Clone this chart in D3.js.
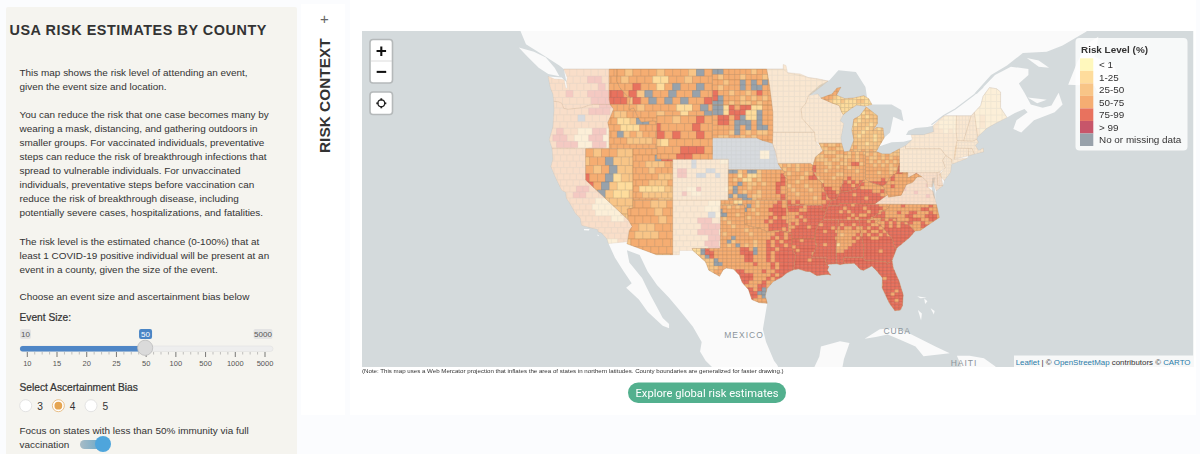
<!DOCTYPE html>
<html>
<head>
<meta charset="utf-8">
<title>USA Risk Estimates by County</title>
<script src="https://d3js.org/d3.v7.min.js"></script>
<style>
  body { margin: 0; background: #fbfcfe; overflow: hidden; }
  text { font-family: "Liberation Sans", Arial, sans-serif; fill: #333; }
</style>
</head>
<body>
<script>
// legend
const riskLevels = ["0", "1", "2", "3", "4", "5", "n"]
const legendLabels = ["< 1", "1-25", "25-50", "50-75", "75-99", "> 99", "No or missing data"]
const legendColors = ["#fff8bd", "#fedc9c", "#f8c587", "#f5ad72", "#e8725e", "#c7566a", "#98a2ab"]

// sidebar copy
const introLines = [
  ["This map shows the risk level of attending an event,", 75.5],
  ["given the event size and location.", 89.5],
  ["You can reduce the risk that one case becomes many by", 117.5],
  ["wearing a mask, distancing, and gathering outdoors in", 131.5],
  ["smaller groups. For vaccinated individuals, preventative", 145.5],
  ["steps can reduce the risk of breakthrough infections that", 159.5],
  ["spread to vulnerable individuals. For unvaccinated", 173.5],
  ["individuals, preventative steps before vaccination can", 187.5],
  ["reduce the risk of breakthrough disease, including", 201.5],
  ["potentially severe cases, hospitalizations, and fatalities.", 215.5],
  ["The risk level is the estimated chance (0-100%) that at", 244.5],
  ["least 1 COVID-19 positive individual will be present at an", 258.5],
  ["event in a county, given the size of the event.", 272.5],
  ["Choose an event size and ascertainment bias below", 299.5]
]
const sliderTicks = ["10", "15", "20", "25", "50", "100", "500", "1000", "5000"]
const sliderValue = "50"
const biasOptions = ["3", "4", "5"]
const biasSelected = "4"

// state outlines, [lon, lat]
const outlines = {
  WA: [[-124.7,48.38],[-123.9,48.17],[-123.1,48.15],[-122.7,48.1],[-122.5,47.4],[-122.3,47.4],[-122.4,47.9],[-122.3,48.3],[-122.75,49],[-117.03,49],[-117.04,46.42],[-116.92,45.99],[-118.98,46],[-119.6,45.92],[-120.5,45.7],[-121.2,45.65],[-122.2,45.57],[-122.75,45.65],[-123,46.1],[-123.4,46.22],[-124,46.27],[-124.1,46.9],[-124.4,47.4]],
  OR: [[-124,46.27],[-123.4,46.22],[-123,46.1],[-122.75,45.65],[-122.2,45.57],[-121.2,45.65],[-120.5,45.7],[-119.6,45.92],[-118.98,46],[-116.92,45.99],[-116.47,45.6],[-116.85,44.95],[-117.2,44.4],[-117.03,43.8],[-117.03,42],[-124.2,42],[-124.55,42.84],[-124.1,44],[-123.95,45.5]],
  CA: [[-124.2,42],[-120,42],[-120,39],[-114.63,35],[-114.14,34.3],[-114.5,33.9],[-114.72,32.72],[-117.12,32.53],[-117.3,33],[-118,33.65],[-118.4,33.75],[-118.5,34.03],[-119.2,34.15],[-120.5,34.45],[-120.65,35.15],[-121.3,35.7],[-121.9,36.6],[-122.4,37.2],[-122.5,37.8],[-123,38],[-123.8,39.3],[-124.35,40.3],[-124.1,41]],
  NV: [[-120,42],[-114.04,42],[-114.04,36.2],[-114.75,36.1],[-114.63,35],[-120,39]],
  ID: [[-117.03,49],[-116.05,49],[-116.05,48],[-115.7,47.45],[-114.7,46.7],[-114.35,46.65],[-114.55,45.55],[-113.95,45.7],[-113.45,44.95],[-113,44.45],[-111.5,44.55],[-111.05,44.48],[-111.05,42],[-117.03,42],[-117.03,43.8],[-117.2,44.4],[-116.85,44.95],[-116.47,45.6],[-116.92,45.99],[-117.04,46.42]],
  MT: [[-116.05,49],[-104.05,49],[-104.05,45],[-111.05,45],[-111.05,44.48],[-111.5,44.55],[-113,44.45],[-113.45,44.95],[-113.95,45.7],[-114.55,45.55],[-114.35,46.65],[-114.7,46.7],[-115.7,47.45],[-116.05,48]],
  WY: [[-111.05,45],[-104.05,45],[-104.05,41],[-111.05,41]],
  UT: [[-114.04,42],[-111.05,42],[-111.05,41],[-109.05,41],[-109.05,37],[-114.04,37]],
  CO: [[-109.05,41],[-102.05,41],[-102.05,37],[-109.05,37]],
  NM: [[-109.05,37],[-103,37],[-103.05,32],[-106.6,32],[-106.5,31.78],[-108.2,31.78],[-108.2,31.33],[-109.05,31.33]],
  AZ: [[-114.04,37],[-109.05,37],[-109.05,31.33],[-111.07,31.33],[-114.8,32.5],[-114.72,32.72],[-114.5,33.9],[-114.14,34.3],[-114.63,35],[-114.75,36.1],[-114.04,36.2]],
  ND: [[-104.05,49],[-97.23,49],[-96.85,47.5],[-96.56,45.94],[-104.05,45.94]],
  SD: [[-104.05,45.94],[-96.56,45.94],[-96.45,45.3],[-96.45,43.5],[-96.5,42.5],[-97.9,42.8],[-98.5,43],[-104.05,43]],
  NE: [[-104.05,43],[-98.5,43],[-97.9,42.8],[-96.5,42.5],[-96.1,41.7],[-95.85,40.7],[-95.3,40],[-102.05,40],[-102.05,41],[-104.05,41]],
  KS: [[-102.05,40],[-95.3,40],[-94.9,39.8],[-95.1,39.5],[-94.6,39.1],[-94.62,37],[-102.05,37]],
  OK: [[-103,37],[-94.62,37],[-94.43,35.4],[-94.48,33.64],[-95.5,33.9],[-96.6,33.85],[-97.2,33.75],[-98.1,34.13],[-99.2,34.3],[-100,34.56],[-100,36.5],[-103,36.5]],
  TX: [[-103,36.5],[-100,36.5],[-100,34.56],[-99.2,34.3],[-98.1,34.13],[-97.2,33.75],[-96.6,33.85],[-95.5,33.9],[-94.48,33.64],[-94.04,33.55],[-94.04,32],[-93.55,31.2],[-93.85,29.7],[-94.7,29.35],[-95.3,28.9],[-96.4,28.4],[-97.2,27.6],[-97.4,26.8],[-97.15,25.96],[-98.2,26.05],[-99.1,26.4],[-99.5,27.5],[-100.3,28.3],[-100.65,29.1],[-101.4,29.77],[-102.3,29.88],[-102.7,29.7],[-103.15,28.98],[-104.5,29.65],[-104.9,30.55],[-106.5,31.78],[-106.6,32],[-103.05,32]],
  MN: [[-97.23,49],[-95.15,49],[-95.15,49.38],[-94.8,49.3],[-94.6,48.7],[-93,48.6],[-92,48.3],[-90.8,48.2],[-89.5,48],[-92,46.7],[-92.3,46.1],[-92.9,45.6],[-92.75,44.75],[-91.2,43.5],[-96.45,43.5],[-96.45,45.3],[-96.56,45.94],[-96.85,47.5]],
  IA: [[-96.45,43.5],[-91.2,43.5],[-91.1,42.7],[-90.15,41.8],[-91.1,41.2],[-91.4,40.4],[-91.7,40.6],[-95.77,40.58],[-96.1,41.7],[-96.5,42.5]],
  MO: [[-95.77,40.58],[-91.7,40.6],[-91.4,40.4],[-91.5,40],[-90.7,39],[-90.2,38.7],[-90.2,38.3],[-89.5,37.3],[-89.15,36.98],[-89.4,36.5],[-89.7,36],[-90.37,36],[-90.15,36.5],[-94.62,36.5],[-94.62,39.1],[-95.1,39.5],[-94.9,39.8],[-95.3,40]],
  AR: [[-94.62,36.5],[-90.15,36.5],[-90.37,36],[-89.7,36],[-90.1,35],[-90.6,34.7],[-91.1,33.8],[-91.17,33],[-94.04,33],[-94.04,33.55],[-94.48,33.64],[-94.43,35.4]],
  LA: [[-94.04,33],[-91.17,33],[-90.9,32.3],[-91.6,31],[-89.73,31],[-89.85,30.65],[-89.6,30.2],[-89.4,30.05],[-89.6,29.65],[-89.15,29.1],[-89.5,29.2],[-90.1,29.15],[-90.9,29.05],[-91.8,29.5],[-92.3,29.53],[-93.2,29.78],[-93.85,29.7],[-93.55,31.2],[-94.04,32]],
  MS: [[-91.17,33],[-91.1,33.8],[-90.6,34.7],[-90.1,35],[-88.2,35],[-88.47,31.9],[-88.4,30.35],[-89.4,30.3],[-89.6,30.2],[-89.85,30.65],[-89.73,31],[-91.6,31],[-90.9,32.3]],
  AL: [[-88.2,35],[-85.6,35],[-85.18,32.87],[-85,32.3],[-85.05,31],[-87.6,31],[-87.45,30.35],[-88,30.25],[-88.4,30.35],[-88.47,31.9]],
  TN: [[-90.1,35],[-89.7,36],[-89.4,36.5],[-88.05,36.5],[-88.05,36.68],[-83.67,36.6],[-81.68,36.59],[-82,36.1],[-83,35.75],[-84.3,35],[-85.6,35]],
  KY: [[-89.4,36.5],[-89.15,36.98],[-88.5,37.1],[-88.05,37.8],[-87,37.9],[-86.3,38.1],[-85.7,38.3],[-85.4,38.7],[-84.8,39.1],[-84.2,38.8],[-83.7,38.65],[-82.6,38.4],[-82,37.55],[-83.67,36.6],[-88.05,36.68],[-88.05,36.5]],
  IL: [[-91.4,40.4],[-91.1,41.2],[-90.15,41.8],[-90.65,42.5],[-87.8,42.5],[-87.5,41.7],[-87.53,39.3],[-87.9,38],[-88.05,37.8],[-88.5,37.1],[-89.15,36.98],[-89.5,37.3],[-90.2,38.3],[-90.2,38.7],[-90.7,39],[-91.5,40]],
  IN: [[-87.5,41.7],[-86.8,41.76],[-84.8,41.76],[-84.8,39.1],[-85.4,38.7],[-85.7,38.3],[-86.3,38.1],[-87,37.9],[-88.05,37.8],[-87.9,38],[-87.53,39.3]],
  OH: [[-84.8,41.76],[-83.45,41.73],[-82.7,41.5],[-81.7,41.5],[-80.52,41.98],[-80.52,40.64],[-80.85,39.7],[-81.75,39.2],[-82.2,38.6],[-82.6,38.4],[-83.7,38.65],[-84.2,38.8],[-84.8,39.1]],
  MI: [[-86.8,41.76],[-83.45,41.73],[-83.1,42.2],[-82.45,43],[-82.6,43.9],[-83.4,43.95],[-83.9,43.65],[-83.3,44.3],[-83.3,45],[-84.7,45.77],[-85.5,45],[-86.25,44.7],[-86.5,43.7],[-86.25,42.8]],
  UP: [[-90.4,46.55],[-89,46.9],[-88.4,47.4],[-87.9,47.47],[-88.45,46.8],[-87.4,46.5],[-86.3,46.55],[-85,46.75],[-84.4,46.5],[-84,46],[-84.75,45.85],[-85.9,45.95],[-86.6,45.65],[-87.6,45.1],[-87.8,45.35],[-88.1,45.9],[-89.1,46.15]],
  WI: [[-92.75,44.75],[-92.9,45.6],[-92.3,46.1],[-92,46.7],[-90.8,46.9],[-90.4,46.55],[-89.1,46.15],[-88.1,45.9],[-87.8,45.35],[-87.6,45.1],[-88,44.55],[-87.55,44.3],[-87.9,43],[-87.8,42.5],[-90.65,42.5],[-91.1,42.7],[-91.2,43.5]],
  GA: [[-85.6,35],[-83.1,35],[-83.35,34.7],[-82.9,34.5],[-81.4,33],[-81.1,32.1],[-80.85,32.05],[-81.45,30.72],[-82.05,30.36],[-82.2,30.57],[-84.86,30.7],[-85.05,31],[-85,32.3],[-85.18,32.87]],
  FL: [[-87.6,31],[-85.05,31],[-84.86,30.7],[-82.2,30.57],[-82.05,30.36],[-81.45,30.72],[-81.3,29.9],[-80.55,28.4],[-80.05,26.9],[-80.15,25.7],[-80.4,25.2],[-81.1,25.13],[-81.8,26],[-82.7,27.7],[-82.65,28.8],[-83.4,29.6],[-84,30.1],[-85,29.65],[-85.4,29.7],[-86.2,30.4],[-87.45,30.35]],
  SC: [[-83.35,34.7],[-83.1,35],[-82.3,35.2],[-81,35.15],[-80.8,34.82],[-79.67,34.8],[-78.55,33.85],[-79.2,33.2],[-79.9,32.7],[-80.85,32.05],[-81.1,32.1],[-81.4,33],[-82.9,34.5]],
  NC: [[-84.3,35],[-83,35.75],[-82,36.1],[-81.68,36.59],[-75.87,36.55],[-75.5,35.25],[-76.5,34.7],[-77.9,33.9],[-78.55,33.85],[-79.67,34.8],[-80.8,34.82],[-81,35.15],[-82.3,35.2],[-83.1,35]],
  VA: [[-83.67,36.6],[-81.68,36.59],[-75.87,36.55],[-76,37],[-76.3,37.9],[-77,38.3],[-77.05,38.85],[-77.72,39.32],[-78.3,39.3],[-78.9,38.75],[-79.65,38.55],[-80.3,37.5],[-81.9,37.3],[-82,37.55]],
  WV: [[-82.6,38.4],[-82.2,38.6],[-81.75,39.2],[-80.85,39.7],[-80.52,40.64],[-80.52,39.72],[-79.48,39.72],[-79.48,39.2],[-78.4,39.65],[-77.72,39.32],[-78.3,39.3],[-78.9,38.75],[-79.65,38.55],[-80.3,37.5],[-81.9,37.3],[-82,37.55]],
  MD: [[-79.48,39.72],[-75.79,39.72],[-75.7,38.45],[-75.05,38.45],[-75.9,37.95],[-76.3,38.9],[-76.4,38.3],[-77,38.3],[-77.05,38.85],[-77.72,39.32],[-78.4,39.65],[-79.48,39.2]],
  DE: [[-75.79,39.72],[-75.4,39.8],[-75.05,38.45],[-75.7,38.45]],
  PA: [[-80.52,41.98],[-79.76,42.27],[-79.76,42],[-75.35,42],[-74.7,41.35],[-75.1,40.9],[-74.75,40.2],[-75.4,39.8],[-75.79,39.72],[-80.52,39.72]],
  NY: [[-79.76,42.27],[-78.9,42.85],[-79.05,43.27],[-77.5,43.27],[-76.2,43.55],[-76.3,44.1],[-75,44.95],[-74.7,45],[-73.35,45],[-73.4,43.6],[-73.27,42.75],[-73.5,41.3],[-73.65,41],[-72,41.1],[-73.9,40.55],[-74,41],[-74.7,41.35],[-75.35,42],[-79.76,42]],
  NJ: [[-74.7,41.35],[-73.9,40.95],[-74,40.45],[-74.1,39.75],[-74.9,38.95],[-75.5,39.5],[-74.75,40.2],[-75.1,40.9]],
  CT: [[-73.5,42.05],[-71.8,42.02],[-71.85,41.32],[-73.65,41]],
  RI: [[-71.8,42.02],[-71.4,42.02],[-71.1,41.5],[-71.85,41.32]],
  MA: [[-73.27,42.75],[-71.3,42.7],[-70.8,42.87],[-70.6,42.6],[-71,42.3],[-70.55,41.8],[-70,42.05],[-69.95,41.7],[-71.1,41.5],[-71.4,42.02],[-73.5,42.05]],
  VT: [[-73.35,45],[-71.5,45],[-72.45,42.73],[-73.27,42.75],[-73.4,43.6]],
  NH: [[-71.5,45],[-71.1,45.3],[-70.7,43.1],[-70.8,42.87],[-71.3,42.7],[-72.45,42.73]],
  ME: [[-71.1,45.3],[-70.3,45.9],[-70,46.7],[-69.2,47.45],[-68.3,47.35],[-67.8,47.07],[-67.8,45.7],[-67,44.85],[-68.5,44.3],[-69.5,43.9],[-70.7,43.1]]
}

// states above 50% full vaccination are drawn washed out
const fadedStates = ["WA", "OR", "CA", "CO", "NM", "NE", "MN", "IA", "WI", "VA", "MD", "DE", "PA", "NY", "NJ", "CT", "RI", "MA", "VT", "NH", "ME"]
const looseCountyStates = ["WA", "OR", "CA", "NV", "ID", "MT", "WY", "UT", "AZ", "NM"]

// county cell size in degrees, [lon, lat]
const cellSizes = {
  WA:[.9,.6], OR:[.9,.6], CA:[.8,.6], NV:[1,.8], ID:[.8,.6], MT:[1,.6], WY:[1,.7], UT:[.8,.6], CO:[.6,.45], NM:[.9,.6], AZ:[1,.8],
  ND:[.7,.45], SD:[.7,.45], NE:[.6,.4], KS:[.6,.4], OK:[.55,.4], TX:[.55,.4], MN:[.7,.45], IA:[.55,.4], MO:[.55,.4],
  AR:[.5,.35], LA:[.5,.35], MS:[.5,.35], AL:[.5,.35], TN:[.5,.35], KY:[.5,.35], IL:[.5,.35], IN:[.5,.35], OH:[.5,.35], MI:[.5,.35], UP:[.5,.35], WI:[.55,.4],
  GA:[.5,.35], FL:[.5,.35], SC:[.5,.35], NC:[.5,.35], VA:[.5,.35], WV:[.5,.35], MD:[.4,.3], DE:[.3,.3], PA:[.55,.4], NY:[.6,.4], NJ:[.3,.3], CT:[.4,.3], RI:[.3,.3], MA:[.4,.3], VT:[.4,.4], NH:[.4,.4], ME:[.7,.6]
}

// level used where a state has no row for a cell
const baseLevels = {
  WA:"3", OR:"3", CA:"3", NV:"2", ID:"3", MT:"3", WY:"3", UT:"3", CO:"2", NM:"2", AZ:"3", ND:"3", SD:"3", NE:"n", KS:"3", OK:"3", TX:"3",
  MN:"2", IA:"2", MO:"3", AR:"4", LA:"4", MS:"4", AL:"4", TN:"4", KY:"3", IL:"3", IN:"3", OH:"3", MI:"2", UP:"1", WI:"2", GA:"4", FL:"4", SC:"4", NC:"3",
  VA:"3", WV:"3", MD:"3", DE:"3", PA:"2", NY:"2", NJ:"2", CT:"2", RI:"2", MA:"2", VT:"2", NH:"2", ME:"1"
}

// risk level per county cell, read row by row from the north west corner of each state
const riskRows = {
  WA: ["333333333","333333443","333333343","333433444","333333444","333333344"],
  OR: ["333333344","333333444","3333n3333","333333333","343311441","344311441","344411441","333311441"],
  CA: ["3333333333333","3333333333333","3333333333333","3333333333333","3333333333333","3333333333333","3333443333333","3333443333333","3333333111133","3333333111133","3333333111133","3333333333113","3333333333333","3333333333333","3333333333333","3333333331133"],
  NV: ["323322","233n22","323n22","433n12","43n211","22n211","222222","222222","222222"],
  ID: ["33333333","33333333","33333333","44433333","44433433","33333333","32233333","33112nn3","33111333","33n23233","33322223","33333333"],
  MT: ["3233323332n3","323331133233","3343313n33n3","3342n33n33n3","3243n3n3n334","33323333113n","33333233133n","333333333333"],
  WY: ["3323343","4333343","4343343","2133333","3334443","3334433"],
  UT: ["3333n23","3333n44","3322233","3332333","3333222","3332223","3111122","3322222","3333222"],
  CO: ["2222n2222211","2222n2222222","2442222nn222","24422nn22n22","222222222222","222222222222","222114222221","224211222222","222222222222"],
  NM: ["2222211","2222211","22222n1","2222442","2222444","2222444","2222244","2222244","2222244","2222222"],
  AZ: ["333223","333323","333323","332233","322233","233333","233333","223322"],
  ND: ["nn333332333","32333233322","33233n3n3n3","32333n3nn33","43323323433","4n333232323","nn323223233"],
  SD: ["nn143441133","nn144411n33","34434n11n33","3443nnn3n33","3333n3n3nn3","3332n323223","32233232333","33333333333"],
  NE: ["nnnnnnnnnnnnnnn","nnnnnnnnnnnnnnn","nnnnnnnnnnnnnnn","nnnnnnnnnn11nnn","nnnnnnnnnn11nnn","nnnnnnnnnnnnnnn","nnnnnnnnnnnnnnn","nnnnnnnnnnnnnnn"],
  KS: ["nn23nn2333334","3313112333343","3231132333343","33n3223233443","2n33233333433","3n32332333433","n2nn322333343","333nn23333343"],
  OK: ["3331133323333433","2223n3n323334433","3333nn3233344443","3333333323334443","3333332333343433","3333233333434443","3333333333344444","3333333233344434","3333333333343443"],
  TX: [
    "333333332323333333333333","333333n33333233333333333","333333nn3323333233333333","333333323333333233333333",
    "333333332333332333343333","333333333233333333343333","333333333333233333334433","333333323333323333344343",
    "333333333n33333333434343","33333333n233332334343444","2222233323n3232334344344","11n43333333443n334434444",
    "11n44333333444n334344444","222n43333333443334344444","22222n333333443334344444","22222nn33333334333434444",
    "222222333333333333434444","322223333344333343344444","333333333344443333434444","333333333344443334344444",
    "333333333344433343344444","333333333444333443344444","3333333334444434n3344444","333333333444444nn3344444",
    "3333333334444443n3344444","333333333333443333344444","333333333333333333344444"
  ],
  MO: ["2323233332333","3233233343333","3323332344333","3233323443333","2333233333333","3323332333433","3332333233343","3333233333433","3433333323433","3443433333343","4444343333444","4444434344444"],
  AR: ["4444344444","4443344444","3334444444","3343444444","3334344444","3434444444","3344434444","3444444444","4444444444","4444444444"],
  LA: ["44344443344","44444433444","34444443444","43444434444","44444344444","44444444444","44443444444"],
  MS: ["44444443","44344444","44444344","44434434","44444443","34444434","44444444","44434444"],
  AL: ["4444444","4344344","3433433","3333334","3233343","3333434","3333344","1333444","3334444","3344444"],
  TN: ["44444443444444333","44444344443444433","44443434444344343","44444443433444333","44444434344434343"],
  KY: ["333333333333443","333333344333333","333344343333333","334444444443343","344444344444433","444444444344443","444444444444433","444444344444433"],
  IL: ["22232232","23223322","32322233","22233322","32223223","33322332","43332323","43323333","23333322","32333233","33233333","33433333","33344334","33344434","33444444","33444444"],
  IN: ["2323232","3223233","3233233","3234423","3323333","3333233","3333333","3343333","3434343","4443433","4444443","4444444"],
  OH: ["222232222","232323222","322323233","323232323","332323233","333333223","333233234","333333344","333343444","344444344","344444443"],
  MI: ["222222222","212122122","121212221","221222212","212221222","122212212","222122222","221222122","222222122","222212222","232222222","322323222"],
  UP: ["3333333333333","3333311111111","3332111211111","3321121112211","3321111111111","3211111111111","3111111111111"],
  GA: ["4434333333","4443343333","3434433333","3343343443","3434434344","4443344444","4444444444","4444444444","4444444444","4444434444"],
  FL: ["4444444444444444","4444444444444444","4444444444444444","4444444444444444","4444444444444444","4444444444444444","4444444444344444","4444444444444444","4444444443444444","4444444444444444","4444444444444344","4444444444443444","4444444444444444","4444444444444344","4444444444444444"],
  SC: ["3434343333","3343434343","4343434444","3444444444","4444444444"],
  NC: ["333333334333333433","433333333333344333","443433343344333433","344433333443334443","333434433344433443","333344334443343333","333343444433344333","333334444333333333"],
  WV: ["3334444444","3344444444","3344433344","3443333333","3343333333","3333333333","3343333333"],
  ME: ["1111","1111","1111","1111","1211","1211","2121","2222"],
  NY: ["222222221111","222222211111","222222211111","222222221212","222222222222","222222222222","222222222222"],
  VA: ["3333333334333333","3333334333333333","3343333333333433","3333333433333333","3333333333433333","4333333333333433"]
}

// water and neighbouring land behind the states
const northAmerica = [[-128.4,53],[-128.3,52.2],[-127.5,51],[-125.5,50.2],[-123.3,49.3],[-122.75,49],[-122.4,47.9],[-123,48.3],[-124.7,48.38],[-124.4,47.4],[-124.1,46.9],[-124,46.27],[-123.95,45.5],[-124.1,44],[-124.55,42.84],[-124.2,42],[-124.1,41],[-124.35,40.3],[-123.8,39.3],[-123,38],[-122.5,37.8],[-122.4,37.2],[-121.9,36.6],[-121.3,35.7],[-120.65,35.15],[-120.5,34.45],[-119.2,34.15],[-118.5,34.03],[-118.4,33.75],[-118,33.65],[-117.3,33],[-117.12,32.53],[-116.3,31],[-115.2,29.5],[-114.2,28.2],[-114.9,27.7],[-113.3,26.4],[-112.2,25],[-110.3,23.4],[-109.5,23.1],[-109.5,23.6],[-110.3,24.3],[-111,25.5],[-111.9,27],[-112.9,28.8],[-114.5,30.5],[-114.8,31.8],[-113.2,31.3],[-112.2,29.5],[-111,28],[-109.5,26.6],[-108.2,25.2],[-106.5,23.3],[-105.4,21.5],[-105.6,20.4],[-104.9,19.3],[-103.5,18],[-95.5,18],[-95.9,18.8],[-96.3,19.3],[-97.3,21.5],[-97.7,23],[-97.15,25.96],[-97.4,26.8],[-97.2,27.6],[-96.4,28.4],[-95.3,28.9],[-94.7,29.35],[-93.85,29.7],[-93.2,29.78],[-92.3,29.53],[-91.8,29.5],[-90.9,29.05],[-90.1,29.15],[-89.5,29.2],[-89.15,29.1],[-89.6,29.65],[-89.4,30.05],[-89.6,30.2],[-89.4,30.3],[-88.4,30.35],[-88,30.25],[-87.45,30.35],[-86.2,30.4],[-85.4,29.7],[-85,29.65],[-84,30.1],[-83.4,29.6],[-82.65,28.8],[-82.7,27.7],[-81.8,26],[-81.1,25.13],[-80.4,25.2],[-80.15,25.7],[-80.05,26.9],[-80.55,28.4],[-81.3,29.9],[-81.45,30.72],[-80.85,32.05],[-79.9,32.7],[-79.2,33.2],[-78.55,33.85],[-77.9,33.9],[-76.5,34.7],[-75.5,35.25],[-75.87,36.55],[-76,37],[-75.9,37.95],[-75.05,38.45],[-74.9,38.95],[-74.1,39.75],[-74,40.45],[-73.9,40.55],[-72,41.1],[-71.85,41.32],[-71.1,41.5],[-69.95,41.7],[-70,42.05],[-70.55,41.8],[-71,42.3],[-70.6,42.6],[-70.8,42.87],[-70.7,43.1],[-69.5,43.9],[-68.5,44.3],[-67,44.85],[-66,45.25],[-64.8,45.6],[-64.4,45.3],[-65.8,44.6],[-66.2,43.8],[-65.2,43.5],[-63.6,44.6],[-61,45.3],[-60,46],[-60.5,47],[-61.4,45.9],[-62.5,45.7],[-64,46],[-64.8,47],[-65.5,47.8],[-64.3,48.5],[-64.3,49],[-66.5,49.2],[-68.5,48.5],[-70.8,46.9],[-71,47],[-69,48.5],[-67,49.3],[-65,50.3],[-62,50.4],[-60,50.9],[-57,52],[-56,53]]
const islands = [
  [[-128.4,50.75],[-126.5,50.4],[-125,49.95],[-123.9,49.1],[-123.3,48.4],[-124.7,48.6],[-125.9,49.1],[-127.3,50]],
  [[-84.9,21.9],[-83,23],[-81,23.15],[-79,22.4],[-76,21],[-74.2,20.2],[-77.5,19.85],[-78.5,21],[-80.5,21.8],[-82,22.4],[-83.5,22.1]],
  [[-73.3,19.9],[-71.7,19.9],[-69.9,19.6],[-68.4,18.6],[-71.5,17.7],[-74.4,18.4],[-72.7,18.6]],
  [[-78.3,18.4],[-77,18.5],[-76.2,18.1],[-77.3,17.8]],
  [[-91.5,18],[-90.6,19.8],[-90.4,21],[-88,21.6],[-86.8,21.4],[-87.5,19.5],[-87.8,18]],
  [[-59.3,47.7],[-58.2,49.5],[-57,51],[-55.5,51.6],[-56,50],[-53.5,49.3],[-52.7,47.5],[-53.5,46.7],[-55.5,46.9],[-56,47.6]],
  [[-64.4,46.6],[-63,46.5],[-62,46.4],[-63.2,46.1]],
  [[-64.5,49.9],[-63,49.7],[-61.7,49.1],[-63,49.2]],
  [[-120.2,34.05],[-119.5,34.05],[-119.6,33.9],[-120.2,33.92]],
  [[-118.6,33.48],[-118.3,33.38],[-118.4,33.3]],
  [[-78.3,26.75],[-77.1,26.6],[-77.9,26.55]],
  [[-77.4,26.5],[-77,26.2],[-77.3,25.9]],
  [[-78.2,25.2],[-77.7,24.8],[-77.8,24]],
  [[-76.6,25.4],[-76.1,25.1],[-76.2,24.7]]
]
const lakes = [
  [[-92.1,46.75],[-90.8,46.9],[-90.4,46.55],[-89,46.9],[-88.4,47.4],[-87.9,47.47],[-88.45,46.8],[-87.4,46.5],[-86.3,46.55],[-85,46.75],[-84.6,46.6],[-84.8,47.5],[-86,48.75],[-88.2,48.9],[-89.3,48.1],[-90.5,47.7]],
  [[-87.8,42.5],[-87.5,41.7],[-86.8,41.76],[-86.25,42.8],[-86.5,43.7],[-86.25,44.7],[-85.5,45],[-84.7,45.77],[-84.75,45.85],[-85.9,45.95],[-86.6,45.65],[-87.6,45.1],[-88,44.55],[-87.55,44.3],[-87.9,43]],
  [[-84.7,45.77],[-83.3,45],[-83.3,44.3],[-83.9,43.65],[-83.4,43.95],[-82.6,43.9],[-82.45,43],[-81.7,43.5],[-81.3,44.9],[-80,44.5],[-80.3,45.5],[-81.5,46],[-84,46]],
  [[-83.45,41.73],[-82.7,41.5],[-81.7,41.5],[-80.52,41.98],[-79.76,42.27],[-78.9,42.85],[-80,42.65],[-81.5,42.6],[-83.1,42.2]],
  [[-79.7,43.25],[-79.05,43.27],[-77.5,43.27],[-76.2,43.55],[-76.3,44.1],[-77,44],[-78.5,43.9],[-79.4,43.65]],
  [[-76.4,39.2],[-76.5,38.4],[-76.3,37.5],[-76,37],[-75.95,37.6],[-76.15,38.5],[-76,39.3]]
]
const stLawrence = [[-76.5,44.2],[-75,45],[-73.5,45.6],[-71.2,46.8],[-70,47.5]]
const canadaBorder = [[-122.75,49],[-95.15,49],[-94.6,48.7],[-92,48.3],[-89.5,48]]
const easternBorder = [[-75,44.95],[-74.7,45],[-71.5,45],[-71.1,45.3],[-70.3,45.9],[-70,46.7],[-69.2,47.45],[-68.3,47.35],[-67.8,47.07],[-67.8,45.7],[-67,44.85]]
const placeLabels = [["MEXICO", [-100.07, 22]], ["CUBA", [-80.8, 22.44]], ["HAITI", [-72.4, 18.68]]]

const width = 1200
const height = 454

const svg = d3.select("body").append("svg")
  .attr("width", width)
  .attr("height", height)
  .style("display", "block")

// the Leaflet view of the source map
const projection = d3.geoMercator().scale(455.5).translate([1539.6, 517.2])
const ring = d3.line(d => projection(d)[0], d => projection(d)[1])
const closedRing = d => ring(d) + "Z"

const riskColor = d3.scaleOrdinal().domain(riskLevels).range(legendColors)

const drawPanels = () => {
  svg.append("rect").attr("x", 6).attr("y", 7).attr("width", 291).attr("height", 460).attr("rx", 2).attr("fill", "#f5f4ef")
  svg.append("rect").attr("x", 301).attr("y", 4).attr("width", 44).attr("height", 411).attr("fill", "#fff")
  svg.append("rect").attr("x", 350).attr("y", 0).attr("width", 846).attr("height", 415).attr("fill", "#fff")
}

const medium = sel => sel.attr("stroke", "#333").attr("stroke-width", .22)

const drawSidebar = () => {
  svg.append("text")
    .attr("x", 9.5).attr("y", 34.5)
    .attr("font-size", 14.4).attr("font-weight", "bold").attr("letter-spacing", .55)
    .text("USA RISK ESTIMATES BY COUNTY")

  svg.selectAll(".intro").data(introLines).enter().append("text")
    .classed("intro", true)
    .attr("x", 19.5).attr("y", d => d[1])
    .attr("font-size", 9.95)
    .text(d => d[0])

  svg.append("text").attr("x", 19.5).attr("y", 321).attr("font-size", 10.2).call(medium).text("Event Size:")
  svg.append("text").attr("x", 19.5).attr("y", 391).attr("font-size", 10.2).call(medium).text("Select Ascertainment Bias")
  svg.append("text").attr("x", 19.5).attr("y", 433.5).attr("font-size", 9.95).text("Focus on states with less than 50% immunity via full")
  svg.append("text").attr("x", 19.5).attr("y", 447.5).attr("font-size", 9.95).text("vaccination")

  // event size slider
  const slider = d3.scalePoint().domain(sliderTicks).range([27.3, 265])
  svg.append("rect").attr("x", 20).attr("y", 346).attr("width", 253).attr("height", 5.5).attr("rx", 2.7)
    .attr("fill", "#eee").attr("stroke", "#ddd").attr("stroke-width", .5)
  svg.append("rect").attr("x", 20).attr("y", 346).attr("width", slider(sliderValue) - 20).attr("height", 5.5).attr("rx", 2.7)
    .attr("fill", "#4f86c6")

  const step = slider.step()
  sliderTicks.forEach((t, i) => {
    svg.append("line").attr("x1", slider(t)).attr("x2", slider(t)).attr("y1", 352).attr("y2", 357)
      .attr("stroke", "#444").attr("stroke-width", .7)
    svg.append("text").attr("x", slider(t)).attr("y", 366).attr("text-anchor", "middle")
      .attr("font-size", 7.5).style("fill", "#555").text(t)
    if (i < sliderTicks.length - 1) {
      d3.range(1, 4).forEach(k => {
        svg.append("line").attr("x1", slider(t) + step * k / 4).attr("x2", slider(t) + step * k / 4)
          .attr("y1", 352).attr("y2", 354.5).attr("stroke", "#888").attr("stroke-width", .5)
      })
    }
  })

  const bubble = (x, w, label, bg, fg) => {
    svg.append("rect").attr("x", x - w / 2).attr("y", 329).attr("width", w).attr("height", 10).attr("rx", 2).attr("fill", bg)
    svg.append("text").attr("x", x).attr("y", 336.8).attr("text-anchor", "middle").attr("font-size", 8).style("fill", fg).text(label)
  }
  bubble(25.5, 11, sliderTicks[0], "#e3e3e3", "#555")
  bubble(263, 19, sliderTicks[sliderTicks.length - 1], "#e3e3e3", "#555")
  bubble(slider(sliderValue) - .6, 13, sliderValue, "#4a85c5", "#fff")

  svg.append("circle").attr("cx", slider(sliderValue) - 1).attr("cy", 347.8).attr("r", 7.6)
    .attr("fill", "#dadada").attr("stroke", "#bdbdbd").attr("stroke-width", .8)

  // ascertainment bias radios
  const radio = d3.scalePoint().domain(biasOptions).range([25.7, 91])
  biasOptions.forEach(b => {
    const on = b === biasSelected
    svg.append("circle").attr("cx", radio(b)).attr("cy", 405.7).attr("r", 6)
      .attr("fill", "#fff").attr("stroke", on ? "#e3b06c" : "#ddd").attr("stroke-width", .8)
    if (on) svg.append("circle").attr("cx", radio(b)).attr("cy", 405.7).attr("r", 3.9).attr("fill", "#e5a552")
    svg.append("text").attr("x", radio(b) + 11.5).attr("y", 410).attr("font-size", 10.2).text(b)
  })

  // vaccination toggle
  const toggleFill = svg.append("defs").append("linearGradient").attr("id", "toggle")
  toggleFill.append("stop").attr("offset", "0%").attr("stop-color", "#a8bcc6")
  toggleFill.append("stop").attr("offset", "100%").attr("stop-color", "#6aa8c9")
  svg.append("rect").attr("x", 80).attr("y", 440).attr("width", 22).attr("height", 9).attr("rx", 4.5).attr("fill", "url(#toggle)")
  svg.append("circle").attr("cx", 103).attr("cy", 444).attr("r", 8).attr("fill", "#4ea5dc")
}

const drawRiskContext = () => {
  svg.append("text").attr("x", 324.5).attr("y", 24).attr("text-anchor", "middle")
    .attr("font-size", 15).style("fill", "#666").text("+")
  svg.append("text")
    .attr("transform", "translate(329.5,153) rotate(-90)")
    .attr("font-size", 15.4).attr("font-weight", "bold")
    .text("RISK CONTEXT")
}

// county cells of one state, walking the state's bounding box
const stateCells = name => {
  const [dx, dy] = cellSizes[name]
  const lons = d3.extent(outlines[name], d => d[0])
  const lats = d3.extent(outlines[name], d => d[1])
  const rows = riskRows[name] || []
  const loose = looseCountyStates.includes(name)
  const cells = []
  d3.range(Math.ceil((lats[1] - lats[0]) / dy) + 1).forEach(r => {
    d3.range(Math.ceil((lons[1] - lons[0]) / dx) + 2).forEach(c => {
      const ch = (rows[r] || "")[c]
      const west = lons[0] + c * dx - (loose && r % 2 ? dx / 2 : 0)
      const north = lats[1] - r * dy
      cells.push({
        level: riskLevels.includes(ch) ? ch : baseLevels[name],
        corners: [[west, north], [west + dx, north], [west + dx, north - dy], [west, north - dy]]
      })
    })
  })
  return cells
}

const drawMap = () => {
  const defs = svg.append("defs")
  defs.append("clipPath").attr("id", "map-clip").append("rect")
    .attr("x", 362).attr("y", 31).attr("width", 831.5).attr("height", 336)

  const map = svg.append("g").attr("clip-path", "url(#map-clip)")
  map.append("rect").attr("x", 362).attr("y", 31).attr("width", 831.5).attr("height", 336).attr("fill", "#d4dadc")
  map.append("path").attr("d", closedRing(northAmerica)).attr("fill", "#fafafa")
  map.selectAll(".island").data(islands).enter().append("path")
    .classed("island", true).attr("d", closedRing).attr("fill", "#fafafa")
  map.selectAll(".lake").data(lakes).enter().append("path")
    .classed("lake", true).attr("d", closedRing).attr("fill", "#d4dadc")
  map.append("path").attr("d", ring(stLawrence)).attr("fill", "none").attr("stroke", "#d4dadc").attr("stroke-width", 1.2)
  map.selectAll(".border").data([canadaBorder, easternBorder]).enter().append("path")
    .classed("border", true).attr("d", ring).attr("fill", "none").attr("stroke", "#e6e6e6").attr("stroke-width", .7)

  const names = Object.keys(outlines).sort((a, b) => fadedStates.includes(b) - fadedStates.includes(a))
  names.forEach(name => {
    defs.append("clipPath").attr("id", "clip-" + name).append("path").attr("d", closedRing(outlines[name]))
  })

  const counties = map.append("g").style("filter", "blur(0.3px)")
  const states = counties.selectAll(".state").data(names).enter().append("g")
    .classed("state", true)
    .attr("opacity", d => fadedStates.includes(d) ? .36 : 1)

  states.append("g")
    .attr("clip-path", d => "url(#clip-" + d + ")")
    .selectAll("path").data(stateCells).enter().append("path")
    .attr("d", d => closedRing(d.corners))
    .attr("fill", d => riskColor(d.level))
    .attr("stroke", d => d3.color(riskColor(d.level)).darker(.6))
    .attr("stroke-width", .45)

  states.append("path")
    .attr("d", d => closedRing(outlines[d]))
    .attr("fill", "none")
    .attr("stroke", "#b98a5e")
    .attr("stroke-width", .4)

  map.selectAll(".place").data(placeLabels).enter().append("text")
    .classed("place", true)
    .attr("x", d => projection(d[1])[0]).attr("y", d => projection(d[1])[1])
    .attr("text-anchor", "middle").attr("font-size", 8.5).attr("letter-spacing", 1)
    .style("fill", "#8b949b")
    .text(d => d[0])

  // attribution strip
  map.append("rect").attr("x", 1014).attr("y", 355.5).attr("width", 180).attr("height", 11.5).attr("fill", "#fff").attr("fill-opacity", .8)
  const credit = map.append("text").attr("x", 1190.5).attr("y", 364.5).attr("text-anchor", "end").attr("font-size", 7.9)
  const creditParts = [["Leaflet", true], [" | © ", false], ["OpenStreetMap", true], [" contributors © ", false], ["CARTO", true]]
  creditParts.forEach(p => {
    credit.append("tspan").style("fill", p[1] ? "#2a7ba8" : "#333").attr("xml:space", "preserve").text(p[0])
  })

  // zoom buttons
  const button = (y, h) => svg.append("rect").attr("x", 370).attr("y", y).attr("width", 22.5).attr("height", h).attr("rx", 3)
    .attr("fill", "#fff").attr("stroke", "#b5b9ba").attr("stroke-width", 1.6)
  button(39.5, 43.5)
  svg.append("line").attr("x1", 371).attr("x2", 392).attr("y1", 61).attr("y2", 61).attr("stroke", "#ccc").attr("stroke-width", .7)
  svg.append("text").attr("x", 381.3).attr("y", 56.5).attr("text-anchor", "middle").attr("font-size", 19).attr("font-weight", "bold").style("fill", "#111").text("+")
  svg.append("text").attr("x", 381.3).attr("y", 77.5).attr("text-anchor", "middle").attr("font-size", 19).attr("font-weight", "bold").style("fill", "#111").text("−")
  button(92, 22.5)
  svg.append("circle").attr("cx", 381.3).attr("cy", 103.3).attr("r", 3.4).attr("fill", "none").attr("stroke", "#222").attr("stroke-width", 1.2)
  ;[[0, -1], [1, 0], [0, 1], [-1, 0]].forEach(d => {
    svg.append("line")
      .attr("x1", 381.3 + d[0] * 2.8).attr("y1", 103.3 + d[1] * 2.8)
      .attr("x2", 381.3 + d[0] * 5).attr("y2", 103.3 + d[1] * 5)
      .attr("stroke", "#222").attr("stroke-width", 1.8)
  })
}

const drawLegend = () => {
  svg.append("rect").attr("x", 1075.5).attr("y", 38).attr("width", 112).attr("height", 112.5).attr("rx", 4)
    .attr("fill", "#fff").attr("fill-opacity", .82)
  svg.append("text").attr("x", 1081).attr("y", 53).attr("font-size", 9.9).attr("font-weight", "bold").text("Risk Level (%)")

  const y = d3.scaleBand().domain(legendLabels).range([58.3, 146])
  svg.selectAll(".swatch").data(legendLabels).enter().append("rect")
    .classed("swatch", true)
    .attr("x", 1080).attr("y", d => y(d))
    .attr("width", 13.3).attr("height", y.bandwidth())
    .attr("fill", (d, i) => legendColors[i])
  svg.selectAll(".legend-label").data(legendLabels).enter().append("text")
    .classed("legend-label", true)
    .attr("x", 1099).attr("y", d => y(d) + y.bandwidth() / 2 + 3.6)
    .attr("font-size", 9.9)
    .text(d => d)
}

const drawFooter = () => {
  svg.append("text").attr("x", 362).attr("y", 373).attr("font-size", 6.15)
    .text("(Note: This map uses a Web Mercator projection that inflates the area of states in northern latitudes. County boundaries are generalized for faster drawing.)")
  svg.append("rect").attr("x", 628).attr("y", 382.5).attr("width", 158).attr("height", 20.5).attr("rx", 10.2).attr("fill", "#53b08e")
  svg.append("text").attr("x", 707).attr("y", 396.8).attr("text-anchor", "middle")
    .attr("font-size", 11.2).style("font-family", "Roboto").style("fill", "#fff")
    .text("Explore global risk estimates")
}

drawPanels()
drawSidebar()
drawRiskContext()
drawMap()
drawLegend()
drawFooter()
</script>
</body>
</html>
